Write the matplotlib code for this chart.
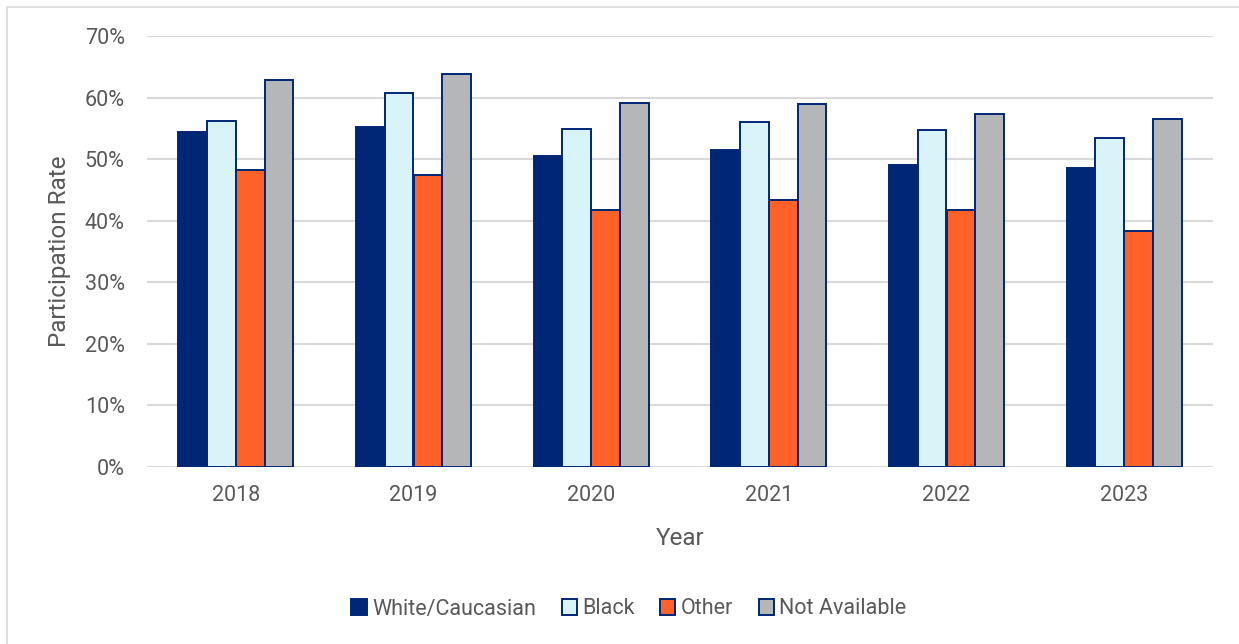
import matplotlib
matplotlib.use("Agg")
import matplotlib.pyplot as plt
from matplotlib.patches import Rectangle
from matplotlib.ticker import PercentFormatter
import numpy as np

years = ["2018", "2019", "2020", "2021", "2022", "2023"]
white = [54.4, 55.2, 50.5, 51.5, 49.0, 48.6]
black = [56.2, 60.7, 54.9, 56.0, 54.8, 53.4]
other = [48.2, 47.4, 41.8, 43.3, 41.7, 38.3]
not_available = [62.9, 63.8, 59.1, 59.0, 57.3, 56.6]
series_names = ["White/Caucasian", "Black", "Other", "Not Available"]
y_ticks = [0, 10, 20, 30, 40, 50, 60, 70]

plt.rcParams['font.family'] = ['Roboto', 'DejaVu Sans']
W, H = 1239, 644
fig = plt.figure(figsize=(W / 100, H / 100), dpi=100)
ax = fig.add_axes([147 / W, 1 - 467 / H, (1213 - 147) / W, (467 - 36) / H])

navy = "#002776"
fills = [navy, "#D9F4F8", "#FF6129", "#B5B6B8"]
data = [white, black, other, not_available]

x = np.arange(len(years))
bw = 0.162
offsets = (np.arange(4) - 1.5) * bw
for i, (vals, col, name) in enumerate(zip(data, fills, series_names)):
    ax.bar(x + offsets[i], vals, bw, color=col, edgecolor=navy,
           linewidth=1.4, label=name, zorder=3)

ax.set_xlim(-0.5, len(years) - 0.5)
ax.set_ylim(0, 70)
ax.set_yticks(y_ticks)
ax.yaxis.set_major_formatter(PercentFormatter(decimals=0))
ax.set_xticks(x)
ax.set_xticklabels(years)
ax.grid(axis="y", color="#D9D9D9", linewidth=1.5, zorder=0)
ax.set_axisbelow(True)
for s in ax.spines.values():
    s.set_visible(False)
ax.tick_params(length=0, labelsize=15.5, colors="#595959")
ax.tick_params(axis="y", pad=16)
ax.tick_params(axis="x", pad=13)
ax.set_ylabel("Participation Rate", fontsize=17.5, color="#595959", labelpad=10)
ax.set_xlabel("Year", fontsize=17.5, color="#595959", labelpad=15)

ax.legend(loc="center", bbox_to_anchor=(629 / W, 1 - 609 / H),
          bbox_transform=fig.transFigure, ncol=4, frameon=False,
          fontsize=15.5, labelcolor="#595959", handlelength=0.7,
          handleheight=0.7, handletextpad=0.25, columnspacing=1.2)

fig.patches.append(Rectangle((7 / W, -0.1), 1.2, 1 - 7 / H + 0.1,
                             transform=fig.transFigure, fill=False,
                             edgecolor="#D9D9D9", linewidth=1.2))

fig.savefig("out.png", dpi=100, facecolor="white")
